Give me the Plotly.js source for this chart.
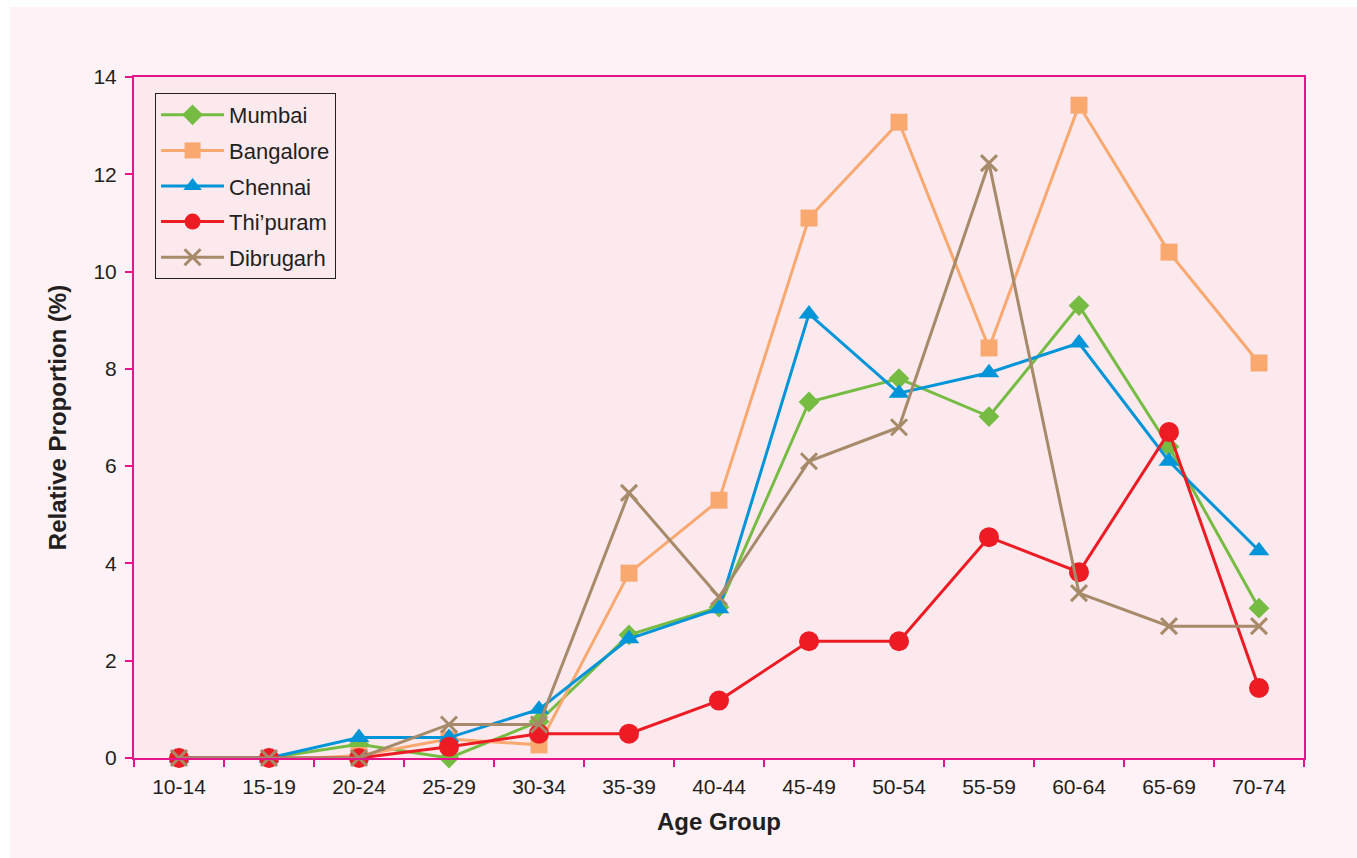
<!DOCTYPE html>
<html>
<head>
<meta charset="utf-8">
<script src="https://cdn.plot.ly/plotly-3.0.1.min.js"></script>
<style>
html,body{margin:0;padding:0;background:#ffffff;}
#chart{position:absolute;left:10px;top:7px;width:1347px;height:851px;}
</style>
</head>
<body>
<div id="chart"></div>
<script>
const ageGroups = ["10-14","15-19","20-24","25-29","30-34","35-39","40-44","45-49","50-54","55-59","60-64","65-69","70-74"];
const mumbai    = [0, 0, 0.28, 0.0, 0.75, 2.53, 3.1, 7.32, 7.8, 7.02, 9.3, 6.4, 3.08];
const bangalore = [-0.05, -0.05, 0.05, 0.39, 0.27, 3.8, 5.3, 11.1, 13.07, 8.43, 13.42, 10.4, 8.12];
const chennai   = [0, 0, 0.42, 0.42, 1.0, 2.45, 3.07, 9.13, 7.5, 7.92, 8.53, 6.1, 4.26];
const thipuram  = [0, 0, 0, 0.23, 0.5, 0.5, 1.18, 2.4, 2.4, 4.54, 3.82, 6.7, 1.44];
const dibrugarh = [0, 0, 0, 0.69, 0.69, 5.45, 3.31, 6.1, 6.8, 12.23, 3.39, 2.71, 2.71];

const seriesNames = ["Mumbai","Bangalore","Chennai","Thi\u2019puram","Dibrugarh"];
const seriesData = [mumbai, bangalore, chennai, thipuram, dibrugarh];
const colors = ["#76bc43","#f9a870","#0094d8","#ed1c24","#a68a69"];
const symbols = ["diamond","square","triangle-up","circle","x-thin"];
const sizes = [16, 17, 18, 20, 16];

const traces = seriesData.map((d, i) => {
  const m = {symbol: symbols[i], size: sizes[i], color: colors[i]};
  if (symbols[i] === "x-thin") { m.line = {color: colors[i], width: 3}; }
  else { m.line = {width: 0}; }
  return {
    type: "scatter", mode: "lines+markers",
    x: ageGroups, y: d, name: seriesNames[i],
    legendgroup: "g" + i,
    line: {color: colors[i], width: 3},
    marker: m,
    cliponaxis: false
  };
});

const pink = "#e4148b";
const txt = "#231f20";
const layout = {
  width: 1347, height: 851,
  paper_bgcolor: "#fef2f6",
  plot_bgcolor: "#fce9ee",
  font: {family: "Liberation Sans, Arial, sans-serif", color: txt, size: 21},
  margin: {l: 124, r: 53, t: 70, b: 100},
  showlegend: true,
  legend: {
    x: 0.018, y: 0.9765, xanchor: "left", yanchor: "top",
    bgcolor: "#fce9ee", bordercolor: txt, borderwidth: 1,
    font: {size: 22, color: txt},
    itemwidth: 63, tracegroupgap: 4, traceorder: "grouped",
    entrywidth: 190, entrywidthmode: "pixels"
  },
  xaxis: {
    type: "category", range: [-0.5, 12.5],
    showline: true, linecolor: pink, linewidth: 2, mirror: true,
    ticks: "outside", tickson: "boundaries", ticklen: 7, tickcolor: pink, tickwidth: 2,
    ticklabelstandoff: 9,
    showgrid: false, zeroline: false,
    tickfont: {size: 21, color: txt},
    title: {text: "<b>Age Group</b>", font: {size: 24, color: txt}, standoff: 16}
  },
  yaxis: {
    range: [0, 14], dtick: 2, tick0: 0,
    showline: true, linecolor: pink, linewidth: 2, mirror: true,
    ticks: "outside", ticklen: 7, tickcolor: pink, tickwidth: 2,
    ticklabelstandoff: 4,
    showgrid: false, zeroline: false,
    tickfont: {size: 21, color: txt},
    title: {text: "<b>Relative Proportion (%)</b>", font: {size: 24, color: txt}, standoff: 20}
  }
};

Plotly.newPlot("chart", traces, layout, {displayModeBar: false, responsive: false});
</script>
</body>
</html>
